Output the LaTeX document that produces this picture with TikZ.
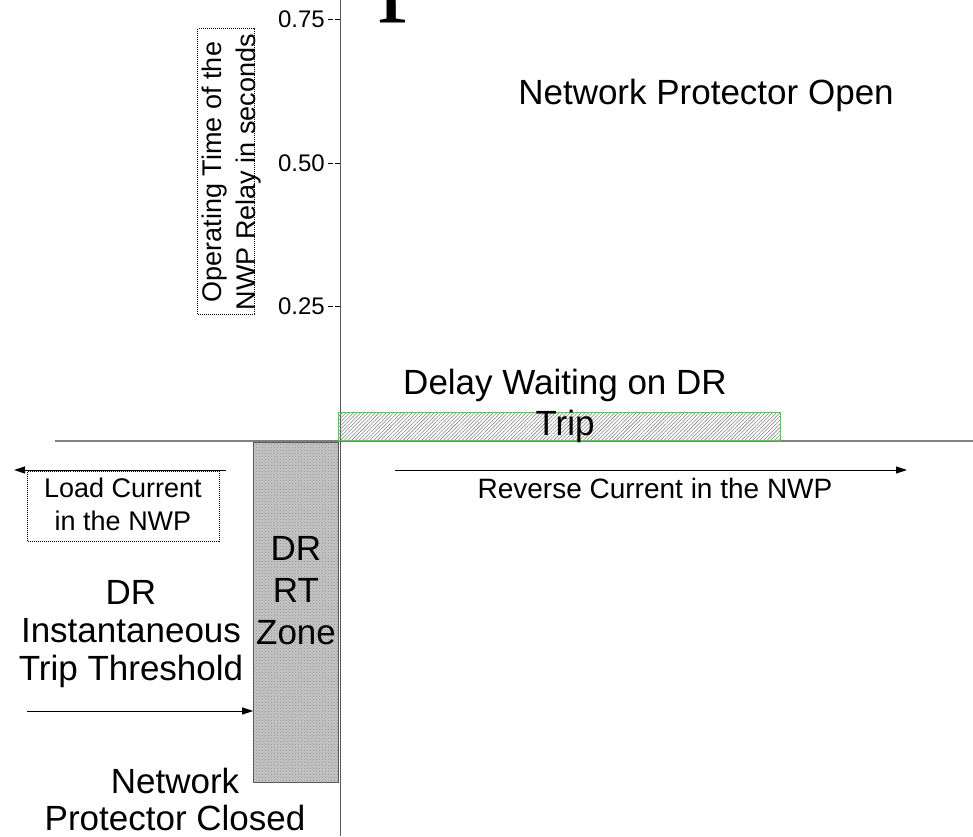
\documentclass[tikz,border=0pt]{standalone}
\usepackage{fontspec}
\setmainfont{Liberation Sans}
\newfontfamily\serifbig{Liberation Serif}
\usepackage{tikz}
\usetikzlibrary{arrows.meta, positioning, patterns, patterns.meta}
\definecolor{AxisGray}{HTML}{808080}
\definecolor{DarkAxis}{HTML}{5A5A5A}
\definecolor{DelayGreen}{HTML}{33E033}

\begin{document}
\begin{tikzpicture}[x=1pt, y=-1pt,
  bigtxt/.style={font=\fontsize{35}{39}\selectfont, align=center, inner sep=0pt},
  smalltxt/.style={font=\fontsize{24}{33}\selectfont, align=center, inner sep=0pt},
  dotbox/.style={draw, densely dotted, line width=1pt},
  tip/.style={-{Triangle[length=11pt,width=7pt]}, line width=0.9pt}]
  \useasboundingbox (0,0) rectangle (973,836);

  % axes
  \coordinate (origin) at (340,441);
  \coordinate (xleft) at (55,441);
  \coordinate (xright) at (973,441);
  \coordinate (ytop) at (340,0);
  \coordinate (ybot) at (340,836);
  \draw[AxisGray, line width=1.8pt] (xleft) -- (xright);
  \draw[DarkAxis, line width=1pt] (ytop) -- (ybot);

  \foreach \i/\y/\lab in {1/19/0.75, 2/163/0.50, 3/306/0.25}{
    \node[smalltxt, anchor=east] (tick\i) at (325,\y) {\lab};
    \draw[line width=1pt, dash pattern=on 5pt off 2pt] (tick\i.east) ++(3,0) -- (origin |- tick\i);
  }

  % cut-off title
  \node[font=\serifbig\fontsize{115}{115}\selectfont, anchor=base west, inner sep=0pt] (title) at (378,-2) {p};

  % y label
  \node[dotbox, minimum width=57pt, minimum height=286pt, anchor=north west] (ylabbox) at (197,28) {};
  \node[font=\fontsize{27}{34}\selectfont, align=center, inner sep=0pt, rotate=90] (ylab) at (232,172)
    {Operating Time of the\\NWP Relay in seconds};

  % zones
  \node[draw=DelayGreen, line width=0.8pt, pattern={Lines[angle=45, distance=2.6pt, line width=0.55pt]}, pattern color=gray,
        minimum width=442pt, minimum height=28pt, inner sep=0pt, anchor=south west] (delay) at (338,441) {};
  \node[draw=DarkAxis, line width=0.8pt, preaction={fill=gray!45}, pattern=crosshatch dots, pattern color=gray!90,
        minimum width=85pt, minimum height=340pt, inner sep=0pt, anchor=north east] (zone) at (339,442) {};

  \node[bigtxt, anchor=base] (open) at (706,104) {Network Protector Open};
  \node[bigtxt, font=\fontsize{35}{41}\selectfont, anchor=north] (delaytxt) at (565,369) {Delay Waiting on DR\\Trip};
  \node[bigtxt, font=\fontsize{35}{42}\selectfont, anchor=north] (zonetxt) at (296,536) {DR\\RT\\Zone};
  \node[bigtxt, font=\fontsize{35}{38}\selectfont, anchor=north] (thrtxt) at (131,580) {DR\\Instantaneous\\Trip Threshold};
  \node[bigtxt, font=\fontsize{35}{37}\selectfont, anchor=north] (closed) at (175,768) {Network\\Protector Closed};

  % currents
  \node[dotbox, minimum width=192pt, minimum height=70pt, inner sep=0pt, anchor=north west] (loadbox) at (27,471) {};
  \node[smalltxt, font=\fontsize{27}{33}\selectfont, anchor=north] (loadtxt) at (123,478) {Load Current\\in the NWP};
  \coordinate (loadR) at (226,470);
  \coordinate (loadL) at (14,470);
  \draw[tip] (loadR) -- (loadL);

  \coordinate (revL) at (395,470);
  \coordinate (revR) at (907,470);
  \draw[tip] (revL) -- (revR);
  \node[smalltxt, font=\fontsize{28}{33}\selectfont, anchor=base] (revtxt) at (655,498) {Reverse Current in the NWP};

  \coordinate (thrL) at (27,711);
  \draw[tip] (thrL) -- (thrL -| zone.west);
\end{tikzpicture}
\end{document}
